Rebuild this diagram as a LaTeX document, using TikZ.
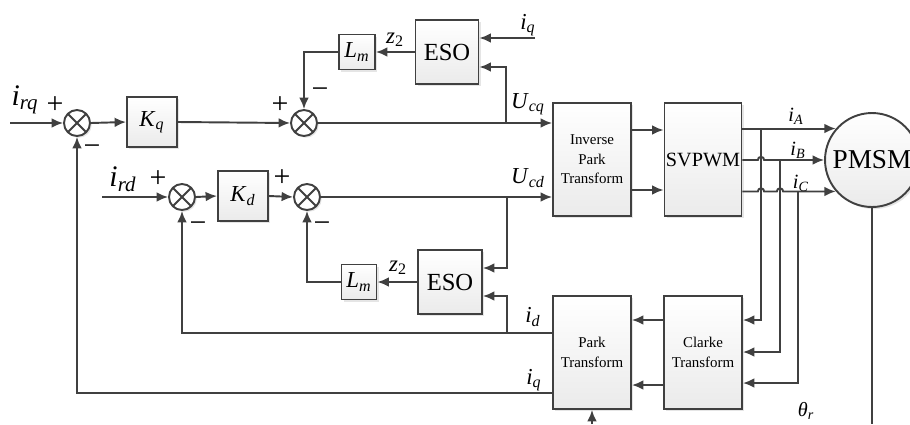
\documentclass[tikz,border=0pt]{standalone}
\usepackage{fontspec}
\setmainfont{Liberation Serif}
\usetikzlibrary{arrows.meta,shadows}
\definecolor{linegray}{RGB}{64,64,64}
\newcommand{\sg}[2]{\textit{#1}\textsubscript{\textit{#2}}}
\tikzset{
  wire/.style={draw=linegray, line width=1.1pt},
  sig/.style={wire, -{Latex[length=6.5pt,width=5.5pt]}},
  blk/.style={draw=linegray, line width=1.1pt, top color=white, bottom color=gray!16,
    drop shadow={shadow xshift=1.2pt, shadow yshift=-1.2pt, fill=gray!40},
    inner sep=0pt, align=center},
  sumnode/.style={circle, draw=linegray, line width=1.1pt, fill=white, minimum size=0.52cm, inner sep=0pt,
    drop shadow={shadow xshift=1pt, shadow yshift=-1pt, fill=gray!40},
    path picture={\draw[linegray, line width=1.1pt]
      (path picture bounding box.north west) -- (path picture bounding box.south east)
      (path picture bounding box.north east) -- (path picture bounding box.south west);}},
  pm/.style={font=\fontsize{17}{17}\selectfont, inner sep=0pt},
  lbl/.style={font=\fontsize{13}{13}\selectfont, inner sep=0pt},
  sml/.style={font=\fontsize{11.5}{11.5}\selectfont, inner sep=0pt},
  big/.style={font=\fontsize{17}{17}\selectfont, inner sep=0pt},
}
\begin{document}
\begin{tikzpicture}[x=0.02cm, y=-0.02cm, line join=miter]
  % units: 1 = one pixel of the 910 x 424 layout, y axis pointing down
  \useasboundingbox (0,0) rectangle (910,424);
  % blocks
  \node[sumnode] (sum1) at (77,123) {};
  \node[sumnode] (sum2) at (304,123) {};
  \node[sumnode] (sum3) at (182,197) {};
  \node[sumnode] (sum4) at (307,197) {};
  \node[blk, minimum width=1cm, minimum height=1cm, font=\fontsize{13}{13}\selectfont] (kq) at (152,122) {\sg{K}{q}};
  \node[blk, minimum width=1cm, minimum height=1cm, font=\fontsize{13}{13}\selectfont] (kd) at (243,196) {\sg{K}{d}};
  \node[blk, minimum width=1.26cm, minimum height=1.28cm, font=\fontsize{14}{14}\selectfont] (esot) at (447,52) {ESO};
  \node[blk, minimum width=1.28cm, minimum height=1.28cm, font=\fontsize{14}{14}\selectfont] (esob) at (450,282) {ESO};
  \node[blk, minimum width=0.72cm, minimum height=0.7cm, font=\fontsize{13}{13}\selectfont] (lmt) at (357,52) {\sg{L}{m}};
  \node[blk, minimum width=0.7cm, minimum height=0.7cm, font=\fontsize{13}{13}\selectfont] (lmb) at (359,282) {\sg{L}{m}};
  \node[blk, minimum width=1.56cm, minimum height=2.26cm, font=\fontsize{8.5}{11}\selectfont] (ipark) at (592,159.5) {Inverse\\Park\\Transform};
  \node[blk, minimum width=1.54cm, minimum height=2.26cm, font=\fontsize{11.5}{11.5}\selectfont] (svpwm) at (703,159.5) {SVPWM};
  \node[blk, minimum width=1.56cm, minimum height=2.26cm, font=\fontsize{8.5}{11}\selectfont] (park) at (592,352.5) {Park\\Transform};
  \node[blk, minimum width=1.56cm, minimum height=2.26cm, font=\fontsize{8.5}{11}\selectfont] (clarke) at (703,352.5) {Clarke\\Transform};
  \node[blk, circle, minimum size=1.88cm, font=\fontsize{15.5}{15.5}\selectfont] (pmsm) at (872,160) {PMSM};
  % free ends
  \coordinate (rqin) at (10,123);
  \coordinate (rdin) at (102,197);
  \coordinate (iqin) at (535,38);
  \coordinate (tucq) at (506,123);
  \coordinate (tucd) at (507,197);
  \coordinate (tid) at (507,333);
  \coordinate (ta) at (761,0);
  \coordinate (tb) at (780,0);
  \coordinate (tc) at (798,0);
  \coordinate (thin) at (592,424);
  \coordinate (pmout) at (872,424);
  % q axis
  \draw[sig] (rqin) -- (sum1.west);
  \draw[sig] (sum1.east) -- (kq.west);
  \draw[sig] (kq.east) -- (sum2.west);
  \draw[sig] (sum2.east) -- (ipark.west |- sum2.east);
  \draw[sig] (iqin) -- (esot.east |- iqin);
  \draw[sig] (tucq) |- (esot.east |- 0,67);
  \draw[sig] (esot.west) -- (lmt.east);
  \draw[sig] (lmt.west) -| (sum2.north);
  % d axis
  \draw[sig] (rdin) -- (sum3.west);
  \draw[sig] (sum3.east) -- (kd.west);
  \draw[sig] (kd.east) -- (sum4.west);
  \draw[sig] (sum4.east) -- (ipark.west |- sum4.east);
  \draw[sig] (tucd) |- (esob.east |- 0,268);
  \draw[sig] (tid) |- (esob.east |- 0,296);
  \draw[sig] (esob.west) -- (lmb.east);
  \draw[sig] (lmb.west) -| (sum4.south);
  % inverter and motor
  \draw[sig] (ipark.east |- 0,130) -- (svpwm.west |- 0,130);
  \draw[sig] (ipark.east |- 0,190) -- (svpwm.west |- 0,190);
  \draw[sig] (svpwm.east |- pmsm.139) -- (pmsm.139);
  \draw[sig] (svpwm.east |- pmsm.west) -- ([xshift=-1.8pt]ta |- pmsm.west)
    arc[start angle=180, end angle=0, radius=1.8pt] -- (pmsm.west);
  \draw[sig] (svpwm.east |- pmsm.221) -- ([xshift=-1.8pt]ta |- pmsm.221)
    arc[start angle=180, end angle=0, radius=1.8pt] -- ([xshift=-1.8pt]tb |- pmsm.221)
    arc[start angle=180, end angle=0, radius=1.8pt] -- (pmsm.221);
  \draw[wire] (pmsm.south) -- (pmout);
  % feedback
  \draw[sig] (ta |- pmsm.139) |- (clarke.east |- 0,320);
  \draw[sig] (tb |- pmsm.west) |- (clarke.east |- 0,352);
  \draw[sig] (tc |- pmsm.221) |- (clarke.east |- 0,383);
  \draw[sig] (clarke.west |- 0,320) -- (park.east |- 0,320);
  \draw[sig] (clarke.west |- 0,385) -- (park.east |- 0,385);
  \draw[sig] (thin) -- (park.south);
  \draw[sig] (park.west |- tid) -| (sum3.south);
  \draw[sig] (park.west |- 0,393) -| (sum1.south);
  % signs
  \node[pm] (p1) at (55,105) {+};
  \node[pm] (m1) at (92,150) {−};
  \node[pm] (p2) at (280,105) {+};
  \node[pm] (m2) at (320,93) {−};
  \node[pm] (p3) at (158,179) {+};
  \node[pm] (m3) at (198,227) {−};
  \node[pm] (p4) at (282,178) {+};
  \node[pm] (m4) at (322,227) {−};
  % signal names
  \node[big] (lrq) at (25,100) {\sg{i}{rq}};
  \node[big] (lrd) at (123,179) {\sg{i}{rd}};
  \node[lbl] (lz1) at (395,40) {\textit{z}\textsubscript{2}};
  \node[lbl] (lz2) at (398,268) {\textit{z}\textsubscript{2}};
  \node[lbl] (liq1) at (528,25) {\sg{i}{q}};
  \node[lbl] (lucq) at (528,104) {\sg{U}{cq}};
  \node[lbl] (lucd) at (528,178) {\sg{U}{cd}};
  \node[lbl] (lid) at (533,317) {\sg{i}{d}};
  \node[lbl] (liq2) at (534,380) {\sg{i}{q}};
  \node[sml] (lia) at (796,116) {\sg{i}{A}};
  \node[sml] (lib) at (798,150) {\sg{i}{B}};
  \node[sml] (lic) at (801,183) {\sg{i}{C}};
  \node[sml] (lth) at (806,411) {\sg{θ}{r}};
\end{tikzpicture}
\end{document}
